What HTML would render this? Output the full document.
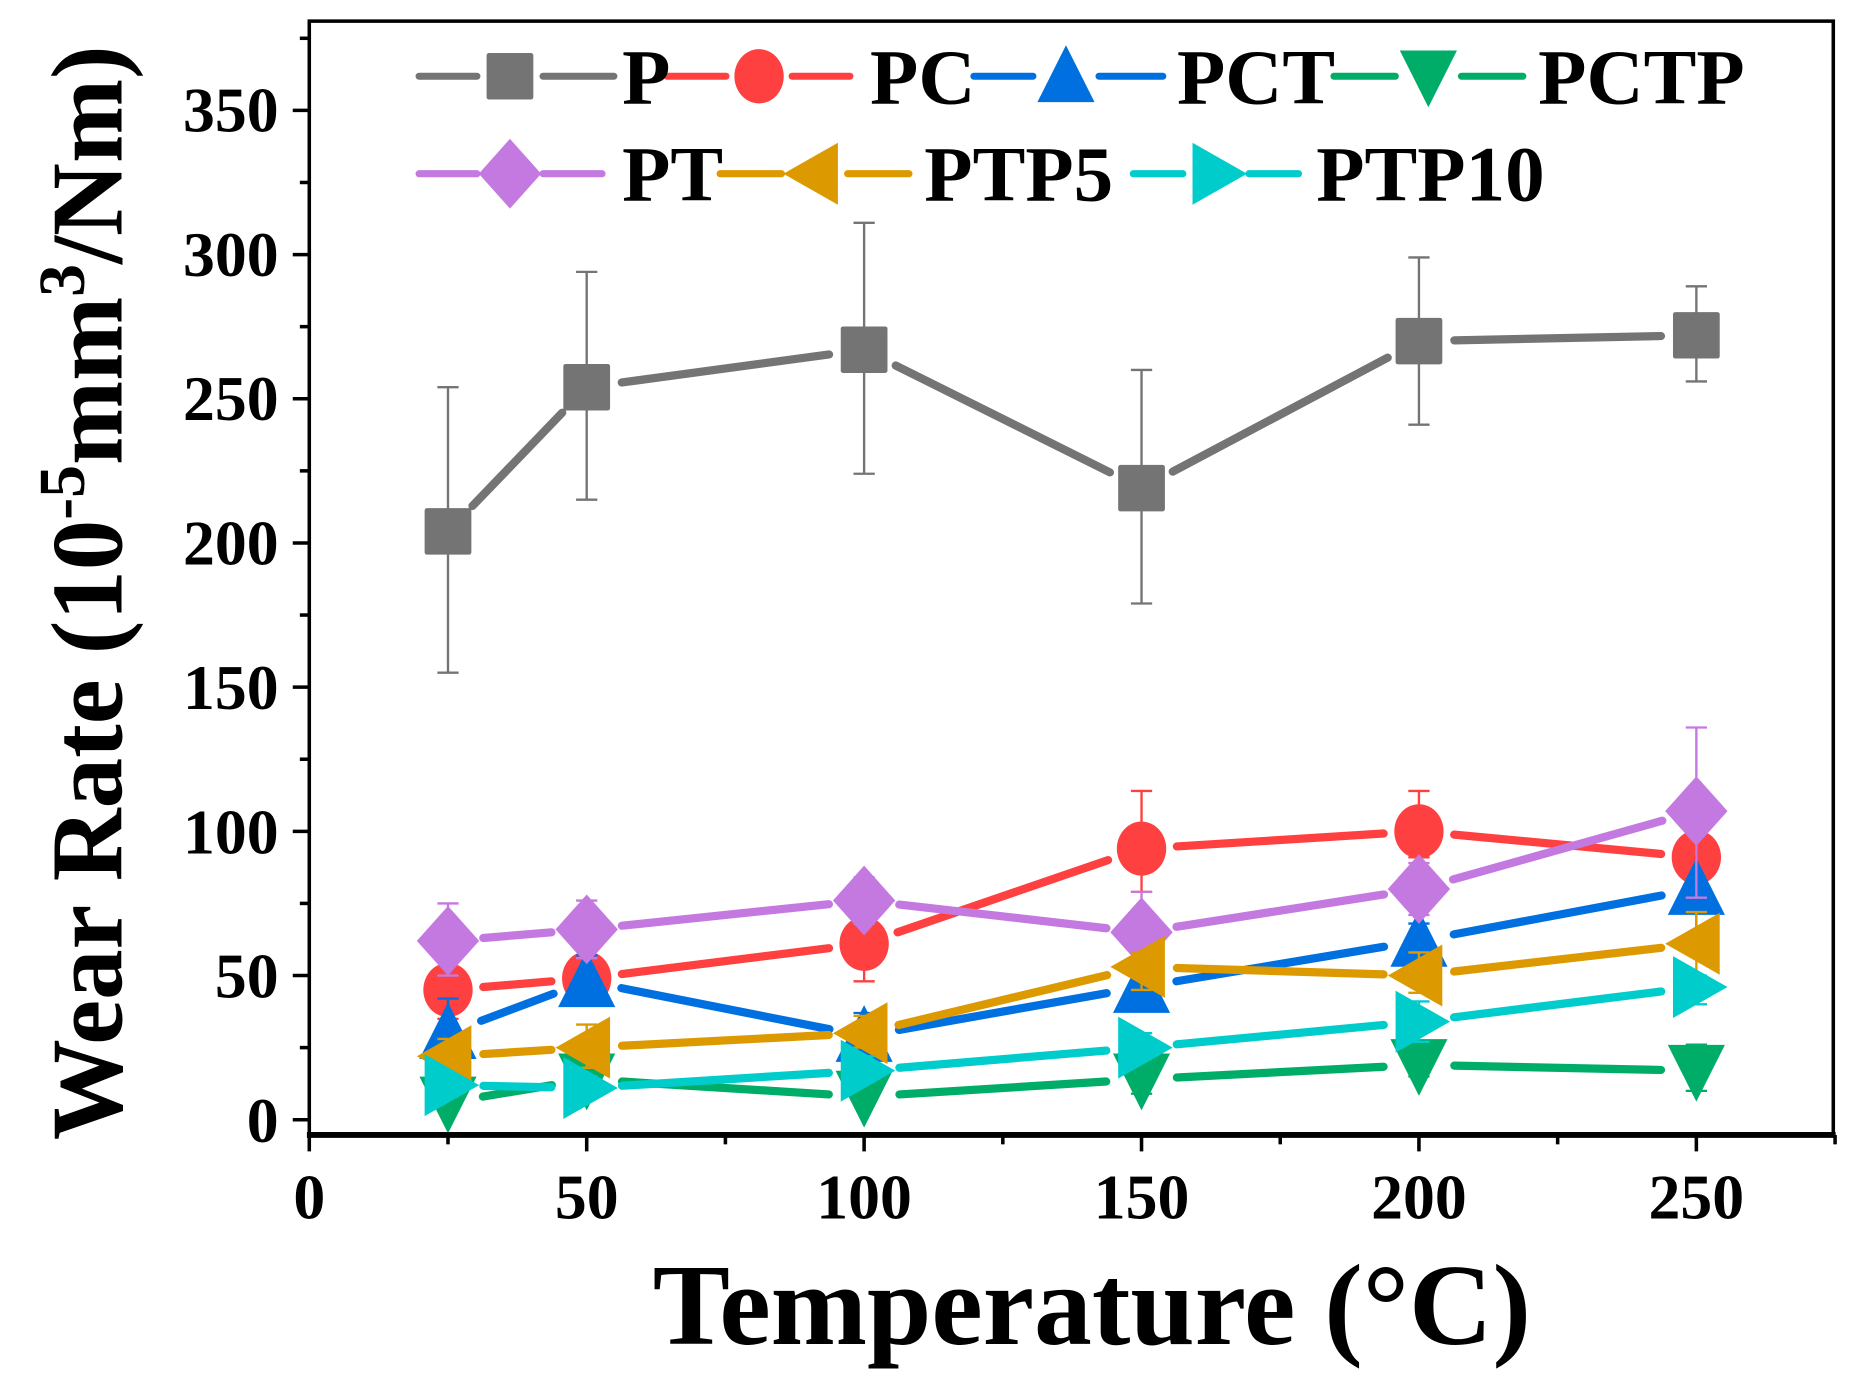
<!DOCTYPE html>
<html><head><meta charset="utf-8"><style>
html,body{margin:0;padding:0;background:#fff;width:1851px;height:1392px;overflow:hidden}
svg{display:block}
text{font-family:"Liberation Serif",serif;font-weight:bold;fill:#000}
</style></head><body>
<svg id="s" width="1851" height="1392" viewBox="0 0 1568 1186" preserveAspectRatio="none" xmlns="http://www.w3.org/2000/svg">
<rect width="1568" height="1186" fill="#fff"/>
<g id="data"></g>
<g id="axes" stroke="#000" fill="none">
<rect x="262" y="18" width="1291" height="949" stroke-width="3"/>
<line x1="260" y1="967" x2="1555" y2="967" stroke-width="5"/>
</g>
<g font-size="54" text-anchor="end">
<text x="236" y="973">0</text>
<text x="236" y="850">50</text>
<text x="236" y="727">100</text>
<text x="236" y="604">150</text>
<text x="236" y="481">200</text>
<text x="236" y="358">250</text>
<text x="236" y="235">300</text>
<text x="236" y="112">350</text>
</g>
<g font-size="54" text-anchor="middle">
<text x="262" y="1038">0</text>
<text x="497" y="1038">50</text>
<text x="732" y="1038">100</text>
<text x="967" y="1038">150</text>
<text x="1202" y="1038">200</text>
<text x="1437" y="1038">250</text>
</g>
<text x="925" y="1145" font-size="98" text-anchor="middle">Temperature (°C)</text>
<text transform="translate(103,505) rotate(-90)" font-size="86" text-anchor="middle">Wear Rate (10<tspan font-size="56" dy="-32">-5</tspan><tspan dy="32">mm</tspan><tspan font-size="56" dy="-32">3</tspan><tspan dy="32">/Nm)</tspan></text>
<g id="legend"></g>
<g font-size="67">
<text x="527" y="88">P</text>
<text x="737" y="88">PC</text>
<text x="997" y="88">PCT</text>
<text x="1303" y="88">PCTP</text>
<text x="527" y="171">PT</text>
<text x="783" y="171">PTP5</text>
<text x="1115" y="171">PTP10</text>
</g>
</svg>
<script>
const NS="http://www.w3.org/2000/svg";
const X=t=>262+4.7*t, Y=v=>954-2.457*v;
function el(p,n,a){const e=document.createElementNS(NS,n);for(const k in a)e.setAttribute(k,a[k]);p.appendChild(e);return e;}
const ax=document.getElementById('axes');
for(let v=0;v<=375;v+=25){const L=v%50==0?14:8;el(ax,'line',{x1:262-L,y1:Y(v),x2:262,y2:Y(v),'stroke-width':3});}
for(let t=0;t<=275;t+=25){const L=t%50==0?14:8;el(ax,'line',{x1:X(t),y1:967,x2:X(t),y2:967+L,'stroke-width':3});}
function marker(g,type,x,y,c,s){
 s=s||1.1;
 if(type=='sq')el(g,'rect',{x:x-18*s,y:y-18*s,width:36*s,height:36*s,rx:2,fill:c});
 else if(type=='ci')el(g,'ellipse',{cx:x,cy:y,rx:19*s,ry:21*s,fill:c});
 else if(type=='up')el(g,'polygon',{points:`${x},${y-24*s} ${x-22*s},${y+20*s} ${x+22*s},${y+20*s}`,fill:c});
 else if(type=='dn')el(g,'polygon',{points:`${x},${y+24*s} ${x-22*s},${y-20*s} ${x+22*s},${y-20*s}`,fill:c});
 else if(type=='di')el(g,'polygon',{points:`${x},${y-27*s} ${x+24*s},${y} ${x},${y+27*s} ${x-24*s},${y}`,fill:c});
 else if(type=='le')el(g,'polygon',{points:`${x-24*s},${y} ${x+18*s},${y-24*s} ${x+18*s},${y+24*s}`,fill:c});
 else if(type=='ri')el(g,'polygon',{points:`${x+24*s},${y} ${x-18*s},${y-24*s} ${x-18*s},${y+24*s}`,fill:c});
}
const T=[25,50,100,150,200,250];
const S=[
 {c:'#747474',m:'sq',v:[204,254,267,219,270,272],e:[[155,254],[215,294],[224,311],[179,260],[241,299],[256,289]]},
 {c:'#ff4040',m:'ci',v:[45,49,61,94,100,91],e:[[35,60],[40,57],[48,75],[79,114],[91,114],[78,104]]},
 {c:'#0070e0',m:'up',v:[30,48,29,46,62,80],e:[[18,42],[40,57],[22,37],[40,52],[55,68],[60,105]]},
 {c:'#00ad68',m:'dn',v:[6,14,8,14,19,17],e:[[3,10],[9,18],[5,12],[9,18],[15,24],[10,26]]},
 {c:'#c479e0',m:'di',v:[62,66,76,65,80,107],e:[[50,75],[56,76],[68,84],[50,79],[71,89],[77,136]]},
 {c:'#dc9a00',m:'le',v:[22,25,30,53,50,61],e:[[14,28],[18,33],[25,36],[45,58],[44,58],[48,72]]},
 {c:'#00cccc',m:'ri',v:[12,11,17,25,34,46],e:[[8,15],[8,15],[13,22],[21,30],[27,41],[40,50]]}
];
const g=document.getElementById('data');
S.forEach(s=>{
 for(let i=0;i<5;i++){
  const x1=X(T[i]),y1=Y(s.v[i]),x2=X(T[i+1]),y2=Y(s.v[i+1]);
  const dx=x2-x1,dy=y2-y1,d=Math.hypot(dx,dy),g0=30/d;
  el(g,'line',{x1:x1+dx*g0,y1:y1+dy*g0,x2:x2-dx*g0,y2:y2-dy*g0,stroke:s.c,'stroke-width':7,'stroke-linecap':'round'});
 }
 T.forEach((t,i)=>{
  const x=X(t),a=Y(s.e[i][0]),b=Y(s.e[i][1]);
  el(g,'line',{x1:x,y1:a,x2:x,y2:b,stroke:s.c,'stroke-width':2});
  el(g,'line',{x1:x-9,y1:a,x2:x+9,y2:a,stroke:s.c,'stroke-width':2});
  el(g,'line',{x1:x-9,y1:b,x2:x+9,y2:b,stroke:s.c,'stroke-width':2});
  marker(g,s.m,x,Y(s.v[i]),s.c);
 });
});
const lg=document.getElementById('legend');
const L=[[355,520,432,65,0],[565,720,643,65,1],[825,985,903,65,2],[1130,1290,1210,65,3],[355,510,432,148,4],[610,770,690,148,5],[960,1100,1030,148,6]];
L.forEach(([a,b,m,y,i])=>{const s=S[i];
 el(lg,'line',{x1:a,y1:y,x2:m-28,y2:y,stroke:s.c,'stroke-width':6,'stroke-linecap':'round'});
 el(lg,'line',{x1:m+28,y1:y,x2:b,y2:y,stroke:s.c,'stroke-width':6,'stroke-linecap':'round'});
 marker(lg,s.m,m,y,s.c);
});
</script>
</body></html>
